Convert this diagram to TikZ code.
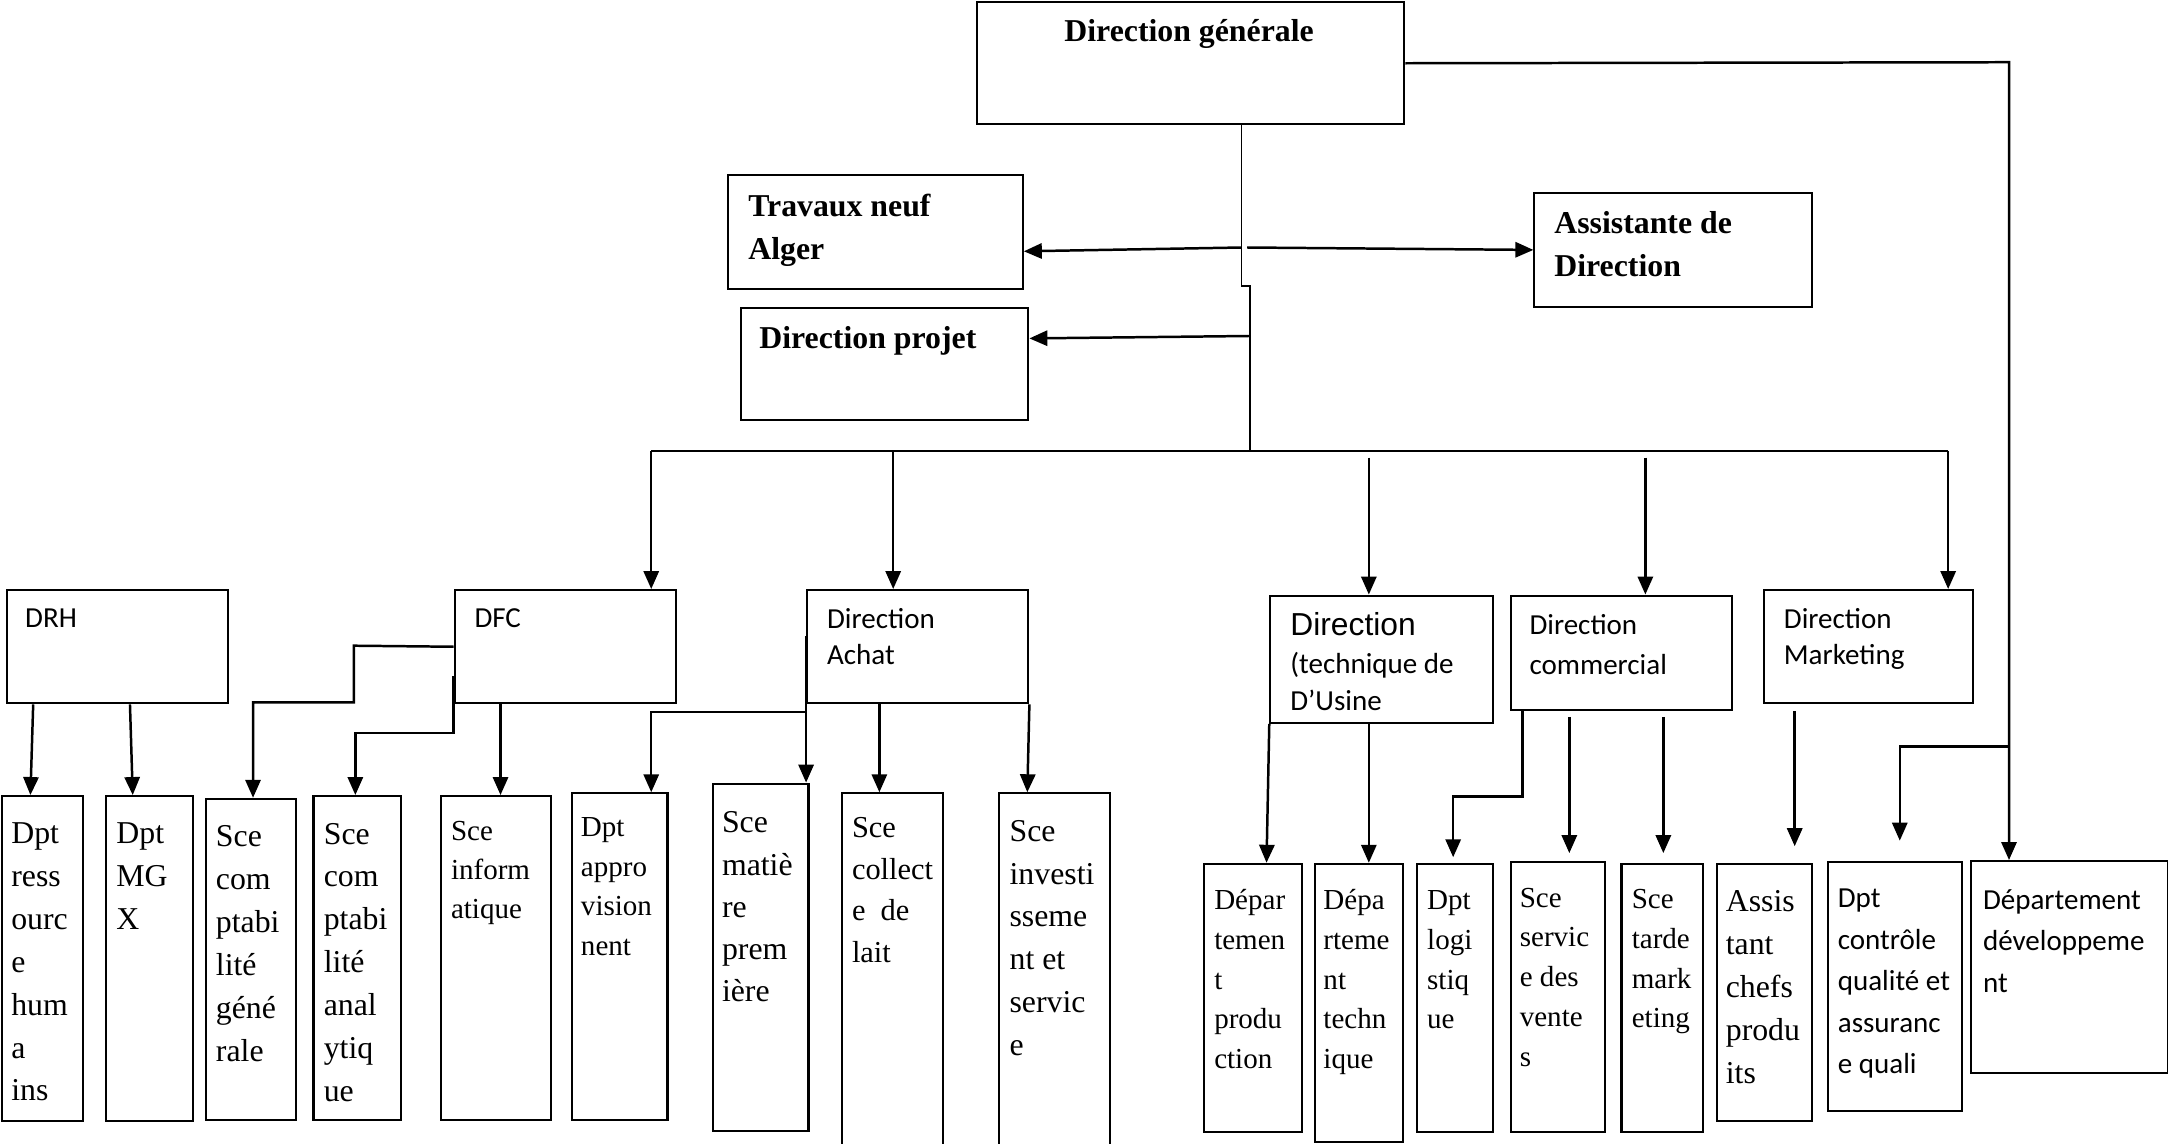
\documentclass[tikz,border=0pt]{standalone}
\usepackage{fontspec}
\setmainfont{Liberation Serif}
\newfontfamily\calibri{Carlito}
\newfontfamily\arial{Liberation Sans}
\usetikzlibrary{arrows.meta, positioning, calc}

\tikzset{
  box/.style={draw, line width=1.5pt, anchor=north west, inner sep=0pt},
  txt/.style={anchor=north west, inner sep=0pt, align=left},
  head/.style={txt, font=\bfseries\fontsize{23}{31}\selectfont},
  serif/.style={txt, font=\fontsize{23}{31}\selectfont},
  serifsm/.style={txt, font=\fontsize{21}{28.75}\selectfont},
  sanstxt/.style={txt, font=\calibri\fontsize{21}{26}\selectfont},
  sansbig/.style={txt, font=\calibri\fontsize{21}{30}\selectfont},
  arr/.style={line width=1.8pt, -{Triangle[length=13pt, width=11pt]}},
  wire/.style={line width=1.5pt},
  trunk/.style={line width=1.1pt},
}

\begin{document}
\begin{tikzpicture}[x=1pt, y=-1pt]
  \useasboundingbox (0,0) rectangle (1568,827);

  % direction generale et rattachements
  \node[box, minimum width=309pt, minimum height=88pt] (dg) at (706,1) {};
  \node[head, anchor=north] (dgT) at (860,14) {Direction générale};
  \node[box, minimum width=213pt, minimum height=82pt] (tna) at (526,126) {};
  \node[head] (tnaT) at (541,140) {Travaux neuf\\Alger};
  \node[box, minimum width=201pt, minimum height=82pt] (ad) at (1109,139) {};
  \node[head] (adT) at (1124,153) {Assistante de\\Direction};
  \node[box, minimum width=208pt, minimum height=81pt] (dp) at (535,222) {};
  \node[head] (dpT) at (549,236) {Direction projet};

  % directions
  \node[box, minimum width=160pt, minimum height=82pt] (drh) at (4,426) {};
  \node[sanstxt] (drhT) at (18,440) {DRH};
  \node[box, minimum width=160pt, minimum height=82pt] (dfc) at (328,426) {};
  \node[sanstxt] (dfcT) at (343,440) {DFC};
  \node[box, minimum width=160pt, minimum height=82pt] (dach) at (583,426) {};
  \node[sanstxt] (dachT) at (598,440) {Direction\\Achat};
  \node[box, minimum width=161pt, minimum height=92pt] (dtech) at (918,430) {};
  \node[sanstxt, font=\calibri\fontsize{21}{27}\selectfont] (dtechT) at (933,443) {{\arial\fontsize{23}{28}\selectfont Direction}\\(technique de\\D’Usine};
  \node[box, minimum width=160pt, minimum height=83pt] (dcom) at (1092,430) {};
  \node[sanstxt, font=\calibri\fontsize{21}{29}\selectfont] (dcomT) at (1106,444) {Direction\\commercial};
  \node[box, minimum width=151pt, minimum height=82pt] (dmkt) at (1275,426) {};
  \node[sanstxt] (dmktT) at (1290,440) {Direction\\Marketing};

  % departements et services
  \node[box, minimum width=58pt, minimum height=235pt] (ress) at (1,575) {};
  \node[serif] (ressT) at (8,595) {Dpt\\ress\\ourc\\e\\hum\\a\\ins};
  \node[box, minimum width=63pt, minimum height=235pt] (mgx) at (76,575) {};
  \node[serif] (mgxT) at (84,595) {Dpt\\MG\\X};
  \node[box, minimum width=65pt, minimum height=232pt] (scg) at (148,577) {};
  \node[serif] (scgT) at (156,597) {Sce\\com\\ptabi\\lité\\géné\\rale};
  \node[box, minimum width=63pt, minimum height=234pt] (sca) at (226,575) {};
  \node[serif] (scaT) at (234,595) {Sce\\com\\ptabi\\lité\\anal\\ytiq\\ue};
  \node[box, minimum width=80pt, minimum height=234pt] (sinf) at (318,575) {};
  \node[serifsm, font=\fontsize{21}{28}\selectfont] (sinfT) at (326,594) {Sce\\inform\\atique};
  \node[box, minimum width=69pt, minimum height=236pt] (dapp) at (413,573) {};
  \node[serifsm] (dappT) at (420,591) {Dpt\\appro\\vision\\nent};
  \node[box, minimum width=69pt, minimum height=251pt] (smp) at (515,566) {};
  \node[serif, font=\fontsize{23}{30.5}\selectfont] (smpT) at (522,587) {Sce\\matiè\\re\\prem\\ière};
  \node[box, minimum width=73pt, minimum height=264pt] (scol) at (608,573) {};
  \node[serif, font=\fontsize{22}{30}\selectfont] (scolT) at (616,591) {Sce\\collect\\e~ de\\lait};
  \node[box, minimum width=80pt, minimum height=264pt] (sinv) at (722,573) {};
  \node[serif] (sinvT) at (730,593) {Sce\\investi\\sseme\\nt et\\servic\\e};

  \node[box, minimum width=71pt, minimum height=194pt] (dprod) at (870,624) {};
  \node[serifsm] (dprodT) at (878,643) {Dépar\\temen\\t\\produ\\ction};
  \node[box, minimum width=64pt, minimum height=201pt] (dtec) at (950,624) {};
  \node[serifsm] (dtecT) at (957,643) {Dépa\\rteme\\nt\\techn\\ique};
  \node[box, minimum width=55pt, minimum height=194pt] (dlog) at (1024,624) {};
  \node[serifsm] (dlogT) at (1032,644) {Dpt\\logi\\stiq\\ue};
  \node[box, minimum width=68pt, minimum height=195pt] (ssv) at (1092,623) {};
  \node[serifsm] (ssvT) at (1099,642) {Sce\\servic\\e des\\vente\\s};
  \node[box, minimum width=59pt, minimum height=194pt] (stm) at (1172,624) {};
  \node[serifsm] (stmT) at (1180,643) {Sce\\tarde\\mark\\eting};
  \node[box, minimum width=69pt, minimum height=186pt] (acp) at (1241,624) {};
  \node[serif] (acpT) at (1248,644) {Assis\\tant\\chefs\\produ\\its};
  \node[box, minimum width=97pt, minimum height=180pt] (dcq) at (1321,623) {};
  \node[sansbig] (dcqT) at (1329,643) {Dpt\\contrôle\\qualité et\\assuranc\\e quali};
  \node[box, minimum width=142pt, minimum height=153pt] (ddev) at (1425,622) {};
  \node[sansbig] (ddevT) at (1434,643) {Département\\développeme\\nt};

  % tronc central
  \coordinate (k1) at (898,207);
  \coordinate (k2) at (904,207);
  \coordinate (bus) at (904,326);
  \draw[trunk] ([xshift=192pt]dg.south west) -- (k1) -- (k2) -- (bus);
  \coordinate (ta) at (898,179);
  \coordinate (tb) at (902,179);
  \coordinate (tc) at (904,243);
  \draw[arr] (ta) -- ([yshift=-14pt]tna.east);
  \draw[arr] (tb) -- (ad.west);
  \draw[arr] (tc) -- ([yshift=18.5pt]dp.east);

  % barre des directions
  \coordinate (bl) at (471,326);
  \coordinate (br) at (1409,326);
  \coordinate (b2) at (646,326);
  \coordinate (b3) at (990,331);
  \coordinate (b4) at (1190,331);
  \draw[wire] (bl) -- (br);
  \draw[arr] (bl) -- (bl |- dfc.north);
  \draw[arr] (b2) -- (b2 |- dach.north);
  \draw[arr] (b3) -- (b3 |- dtech.north);
  \draw[arr] (b4) -- (b4 |- dcom.north);
  \draw[arr] (br) -- (br |- dmkt.north);

  % ligne de droite
  \coordinate (rc) at (1453,45);
  \coordinate (rb) at (1453,540);
  \coordinate (rb2) at (1374,540);
  \coordinate (rb3) at (1374,608);
  \draw[arr] (dg.east) -- (rc) -- (rc |- ddev.north);
  \draw[arr] (rb) -- (rb2) -- (rb3);

  % DRH et DFC
  \draw[arr] ([xshift=20pt]drh.south west) -- ([xshift=21pt]ress.north west);
  \draw[arr] ([xshift=90pt]drh.south west) -- ([xshift=20pt]mgx.north west);
  \coordinate (f1) at (256,467);
  \coordinate (f2) at (256,508);
  \draw[arr] (dfc.west) -- (f1) -- (f2) -| ([xshift=35pt]scg.north west);
  \coordinate (f4) at (328,530);
  \draw[arr] ([yshift=-21pt]dfc.west) -- (f4) -| ([xshift=31pt]sca.north west);
  \draw[arr] ([xshift=34pt]dfc.south west) -- ([xshift=44pt]sinf.north west);

  % achat
  \coordinate (a1) at (583,515);
  \draw[arr] ([yshift=8pt]dach.west) -- (dach.west |- smp.north);
  \draw[arr] (a1) -| ([xshift=58pt]dapp.north west);
  \draw[arr] ([xshift=53pt]dach.south west) -- ([xshift=28pt]scol.north west);
  \draw[arr] (dach.south east) -- ([xshift=21pt]sinv.north west);

  % technique, commercial, marketing
  \draw[arr] (dtech.south west) -- ([xshift=46pt]dprod.north west);
  \draw[arr] ([xshift=72pt]dtech.south west) -- ([xshift=40pt]dtec.north west);
  \coordinate (c1) at (1101,576);
  \draw[arr] ([xshift=9pt]dcom.south west) -- (c1) -| ([xshift=27pt,yshift=4pt]dlog.north west);
  \draw[arr] ([xshift=43pt,yshift=-4pt]dcom.south west) -- ([xshift=43pt,yshift=6pt]ssv.north west);
  \draw[arr] ([xshift=111pt,yshift=-4pt]dcom.south west) -- ([xshift=31pt,yshift=7pt]stm.north west);
  \draw[arr] ([xshift=23pt,yshift=-5pt]dmkt.south west) -- ([xshift=57pt,yshift=12pt]acp.north west);
\end{tikzpicture}
\end{document}
